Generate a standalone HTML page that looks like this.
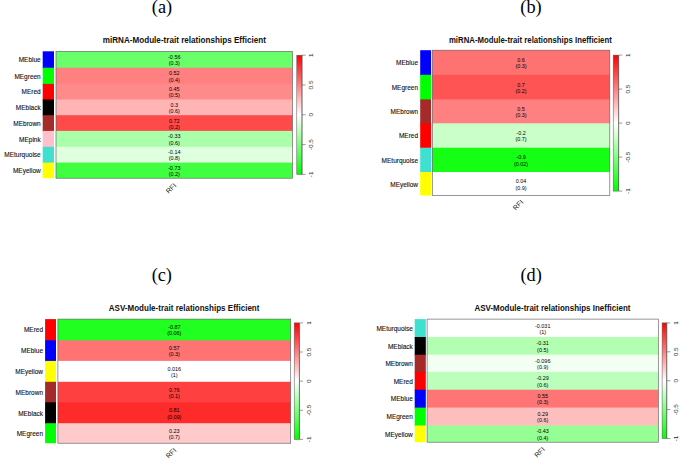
<!DOCTYPE html>
<html><head><meta charset="utf-8"><style>
html,body{margin:0;padding:0;background:#fff;width:685px;height:462px;overflow:hidden}
svg{display:block}
text{font-family:"Liberation Sans",sans-serif}
.tag{font-family:"Liberation Serif",serif;fill:#000}
.ttl{font-weight:bold;fill:#111}
.lbl{fill:#111;stroke:#111;stroke-width:0.12px}
.val{fill:#000}
.tk{fill:#222}
.rfi{fill:#222}
</style></head><body>
<svg width="685" height="462" viewBox="0 0 685 462">
<defs><linearGradient id="g" x1="0" y1="0" x2="0" y2="1">
<stop offset="0" stop-color="#ff0000"/><stop offset="0.5" stop-color="#ffffff"/><stop offset="1" stop-color="#00ff00"/>
</linearGradient></defs>

<text class="tag" transform="translate(162.00,13.10)" font-size="18.30" text-anchor="middle">(a)</text>
<text class="ttl" transform="translate(184.35,42.80) scale(0.9062,1)" font-size="8.96" text-anchor="middle">miRNA-Module-trait relationships Efficient</text>
<rect x="42.70" y="51.30" width="11.30" height="17.20" fill="#0000ff"/>
<rect x="56.00" y="51.30" width="236.50" height="17.20" fill="rgb(106,255,106)"/>
<rect x="42.70" y="67.70" width="11.30" height="17.00" fill="#00ff00"/>
<rect x="56.00" y="67.70" width="236.50" height="17.00" fill="rgb(255,128,128)"/>
<rect x="42.70" y="83.90" width="11.30" height="16.40" fill="#ff0000"/>
<rect x="56.00" y="83.90" width="236.50" height="16.40" fill="rgb(255,138,138)"/>
<rect x="42.70" y="99.50" width="11.30" height="16.50" fill="#000000"/>
<rect x="56.00" y="99.50" width="236.50" height="16.50" fill="rgb(255,181,181)"/>
<rect x="42.70" y="115.20" width="11.30" height="16.50" fill="#a52a2a"/>
<rect x="56.00" y="115.20" width="236.50" height="16.50" fill="rgb(255,74,74)"/>
<rect x="42.70" y="130.90" width="11.30" height="16.70" fill="#ffc0cb"/>
<rect x="56.00" y="130.90" width="236.50" height="16.70" fill="rgb(170,255,170)"/>
<rect x="42.70" y="146.80" width="11.30" height="16.60" fill="#40e0d0"/>
<rect x="56.00" y="146.80" width="236.50" height="16.60" fill="rgb(223,255,223)"/>
<rect x="42.70" y="162.60" width="11.30" height="15.60" fill="#ffff00"/>
<rect x="56.00" y="162.60" width="236.50" height="15.60" fill="rgb(64,255,64)"/>
<text class="lbl" transform="translate(40.70,62.25) scale(0.8696,1)" font-size="7.47" text-anchor="end">MEblue</text>
<text class="val" transform="translate(174.25,59.05) scale(0.9259,1)" font-size="5.89" text-anchor="middle">-0.56</text>
<text class="val" transform="translate(174.25,65.25) scale(0.9259,1)" font-size="5.89" text-anchor="middle">(0.3)</text>
<text class="lbl" transform="translate(40.70,78.55) scale(0.8696,1)" font-size="7.47" text-anchor="end">MEgreen</text>
<text class="val" transform="translate(174.25,75.35) scale(0.9259,1)" font-size="5.89" text-anchor="middle">0.52</text>
<text class="val" transform="translate(174.25,81.55) scale(0.9259,1)" font-size="5.89" text-anchor="middle">(0.4)</text>
<text class="lbl" transform="translate(40.70,94.45) scale(0.8696,1)" font-size="7.47" text-anchor="end">MEred</text>
<text class="val" transform="translate(174.25,91.25) scale(0.9259,1)" font-size="5.89" text-anchor="middle">0.45</text>
<text class="val" transform="translate(174.25,97.45) scale(0.9259,1)" font-size="5.89" text-anchor="middle">(0.5)</text>
<text class="lbl" transform="translate(40.70,110.10) scale(0.8696,1)" font-size="7.47" text-anchor="end">MEblack</text>
<text class="val" transform="translate(174.25,106.90) scale(0.9259,1)" font-size="5.89" text-anchor="middle">0.3</text>
<text class="val" transform="translate(174.25,113.10) scale(0.9259,1)" font-size="5.89" text-anchor="middle">(0.6)</text>
<text class="lbl" transform="translate(40.70,125.80) scale(0.8696,1)" font-size="7.47" text-anchor="end">MEbrown</text>
<text class="val" transform="translate(174.25,122.60) scale(0.9259,1)" font-size="5.89" text-anchor="middle">0.72</text>
<text class="val" transform="translate(174.25,128.80) scale(0.9259,1)" font-size="5.89" text-anchor="middle">(0.2)</text>
<text class="lbl" transform="translate(40.70,141.60) scale(0.8696,1)" font-size="7.47" text-anchor="end">MEpink</text>
<text class="val" transform="translate(174.25,138.40) scale(0.9259,1)" font-size="5.89" text-anchor="middle">-0.33</text>
<text class="val" transform="translate(174.25,144.60) scale(0.9259,1)" font-size="5.89" text-anchor="middle">(0.6)</text>
<text class="lbl" transform="translate(40.70,157.45) scale(0.8696,1)" font-size="7.47" text-anchor="end">MEturquoise</text>
<text class="val" transform="translate(174.25,154.25) scale(0.9259,1)" font-size="5.89" text-anchor="middle">-0.14</text>
<text class="val" transform="translate(174.25,160.45) scale(0.9259,1)" font-size="5.89" text-anchor="middle">(0.8)</text>
<text class="lbl" transform="translate(40.70,173.15) scale(0.8696,1)" font-size="7.47" text-anchor="end">MEyellow</text>
<text class="val" transform="translate(174.25,169.95) scale(0.9259,1)" font-size="5.89" text-anchor="middle">-0.73</text>
<text class="val" transform="translate(174.25,176.15) scale(0.9259,1)" font-size="5.89" text-anchor="middle">(0.2)</text>
<rect x="56.00" y="51.30" width="236.50" height="126.90" fill="none" stroke="#606060" stroke-width="0.65"/>
<rect x="296.80" y="55.20" width="5.20" height="119.20" fill="url(#g)" stroke="#555" stroke-width="0.5"/>
<line x1="302.00" y1="55.20" x2="305.60" y2="55.20" stroke="#555" stroke-width="0.6"/>
<text class="tk" transform="translate(311.00,55.20) rotate(-90) scale(1,0.95)" font-size="6.40" text-anchor="middle" dominant-baseline="central">1</text>
<line x1="302.00" y1="85.00" x2="305.60" y2="85.00" stroke="#555" stroke-width="0.6"/>
<text class="tk" transform="translate(311.00,85.00) rotate(-90) scale(1,0.95)" font-size="6.40" text-anchor="middle" dominant-baseline="central">0.5</text>
<line x1="302.00" y1="114.80" x2="305.60" y2="114.80" stroke="#555" stroke-width="0.6"/>
<text class="tk" transform="translate(311.00,114.80) rotate(-90) scale(1,0.95)" font-size="6.40" text-anchor="middle" dominant-baseline="central">0</text>
<line x1="302.00" y1="144.60" x2="305.60" y2="144.60" stroke="#555" stroke-width="0.6"/>
<text class="tk" transform="translate(311.00,144.60) rotate(-90) scale(1,0.95)" font-size="6.40" text-anchor="middle" dominant-baseline="central">-0.5</text>
<line x1="302.00" y1="174.40" x2="305.60" y2="174.40" stroke="#555" stroke-width="0.6"/>
<text class="tk" transform="translate(311.00,174.40) rotate(-90) scale(1,0.95)" font-size="6.40" text-anchor="middle" dominant-baseline="central">-1</text>
<line x1="302.00" y1="55.20" x2="302.00" y2="174.40" stroke="#555" stroke-width="0.6"/>
<text class="rfi" transform="translate(171.00,188.30) rotate(-45)" font-size="7.00" text-anchor="middle" dominant-baseline="central">RFI</text>
<text class="tag" transform="translate(531.00,13.20)" font-size="18.30" text-anchor="middle">(b)</text>
<text class="ttl" transform="translate(530.35,42.70) scale(0.8714,1)" font-size="8.96" text-anchor="middle">miRNA-Module-trait relationships Inefficient</text>
<rect x="420.20" y="50.20" width="10.90" height="25.40" fill="#0000ff"/>
<rect x="432.30" y="50.20" width="177.50" height="25.40" fill="rgb(255,114,114)"/>
<rect x="420.20" y="74.80" width="10.90" height="25.40" fill="#00ff00"/>
<rect x="432.30" y="74.80" width="177.50" height="25.40" fill="rgb(255,84,84)"/>
<rect x="420.20" y="99.40" width="10.90" height="24.70" fill="#a52a2a"/>
<rect x="432.30" y="99.40" width="177.50" height="24.70" fill="rgb(255,128,128)"/>
<rect x="420.20" y="123.30" width="10.90" height="25.20" fill="#ff0000"/>
<rect x="432.30" y="123.30" width="177.50" height="25.20" fill="rgb(202,255,202)"/>
<rect x="420.20" y="147.70" width="10.90" height="25.10" fill="#40e0d0"/>
<rect x="432.30" y="147.70" width="177.50" height="25.10" fill="rgb(21,255,21)"/>
<rect x="420.20" y="172.00" width="10.90" height="23.50" fill="#ffff00"/>
<rect x="432.30" y="172.00" width="177.50" height="23.50" fill="rgb(255,255,255)"/>
<text class="lbl" transform="translate(418.00,65.25) scale(0.8696,1)" font-size="7.47" text-anchor="end">MEblue</text>
<text class="val" transform="translate(521.05,62.05) scale(0.9259,1)" font-size="5.89" text-anchor="middle">0.6</text>
<text class="val" transform="translate(521.05,68.25) scale(0.9259,1)" font-size="5.89" text-anchor="middle">(0.3)</text>
<text class="lbl" transform="translate(418.00,89.85) scale(0.8696,1)" font-size="7.47" text-anchor="end">MEgreen</text>
<text class="val" transform="translate(521.05,86.65) scale(0.9259,1)" font-size="5.89" text-anchor="middle">0.7</text>
<text class="val" transform="translate(521.05,92.85) scale(0.9259,1)" font-size="5.89" text-anchor="middle">(0.2)</text>
<text class="lbl" transform="translate(418.00,114.10) scale(0.8696,1)" font-size="7.47" text-anchor="end">MEbrown</text>
<text class="val" transform="translate(521.05,110.90) scale(0.9259,1)" font-size="5.89" text-anchor="middle">0.5</text>
<text class="val" transform="translate(521.05,117.10) scale(0.9259,1)" font-size="5.89" text-anchor="middle">(0.3)</text>
<text class="lbl" transform="translate(418.00,138.25) scale(0.8696,1)" font-size="7.47" text-anchor="end">MEred</text>
<text class="val" transform="translate(521.05,135.05) scale(0.9259,1)" font-size="5.89" text-anchor="middle">-0.2</text>
<text class="val" transform="translate(521.05,141.25) scale(0.9259,1)" font-size="5.89" text-anchor="middle">(0.7)</text>
<text class="lbl" transform="translate(418.00,162.60) scale(0.8696,1)" font-size="7.47" text-anchor="end">MEturquoise</text>
<text class="val" transform="translate(521.05,159.40) scale(0.9259,1)" font-size="5.89" text-anchor="middle">-0.9</text>
<text class="val" transform="translate(521.05,165.60) scale(0.9259,1)" font-size="5.89" text-anchor="middle">(0.02)</text>
<text class="lbl" transform="translate(418.00,186.50) scale(0.8696,1)" font-size="7.47" text-anchor="end">MEyellow</text>
<text class="val" transform="translate(521.05,183.30) scale(0.9259,1)" font-size="5.89" text-anchor="middle">0.04</text>
<text class="val" transform="translate(521.05,189.50) scale(0.9259,1)" font-size="5.89" text-anchor="middle">(0.9)</text>
<rect x="432.30" y="50.20" width="177.50" height="145.30" fill="none" stroke="#606060" stroke-width="0.65"/>
<rect x="613.20" y="55.10" width="5.50" height="136.00" fill="url(#g)" stroke="#555" stroke-width="0.5"/>
<line x1="618.70" y1="55.10" x2="622.30" y2="55.10" stroke="#555" stroke-width="0.6"/>
<text class="tk" transform="translate(627.50,55.10) rotate(-90) scale(1,0.95)" font-size="6.40" text-anchor="middle" dominant-baseline="central">1</text>
<line x1="618.70" y1="89.10" x2="622.30" y2="89.10" stroke="#555" stroke-width="0.6"/>
<text class="tk" transform="translate(627.50,89.10) rotate(-90) scale(1,0.95)" font-size="6.40" text-anchor="middle" dominant-baseline="central">0.5</text>
<line x1="618.70" y1="123.10" x2="622.30" y2="123.10" stroke="#555" stroke-width="0.6"/>
<text class="tk" transform="translate(627.50,123.10) rotate(-90) scale(1,0.95)" font-size="6.40" text-anchor="middle" dominant-baseline="central">0</text>
<line x1="618.70" y1="157.10" x2="622.30" y2="157.10" stroke="#555" stroke-width="0.6"/>
<text class="tk" transform="translate(627.50,157.10) rotate(-90) scale(1,0.95)" font-size="6.40" text-anchor="middle" dominant-baseline="central">-0.5</text>
<line x1="618.70" y1="191.10" x2="622.30" y2="191.10" stroke="#555" stroke-width="0.6"/>
<text class="tk" transform="translate(627.50,191.10) rotate(-90) scale(1,0.95)" font-size="6.40" text-anchor="middle" dominant-baseline="central">-1</text>
<line x1="618.70" y1="55.10" x2="618.70" y2="191.10" stroke="#555" stroke-width="0.6"/>
<text class="rfi" transform="translate(518.00,204.90) rotate(-45)" font-size="7.00" text-anchor="middle" dominant-baseline="central">RFI</text>
<text class="tag" transform="translate(161.80,281.00)" font-size="18.30" text-anchor="middle">(c)</text>
<text class="ttl" transform="translate(184.10,310.70) scale(0.8963,1)" font-size="8.96" text-anchor="middle">ASV-Module-trait relationships Efficient</text>
<rect x="45.10" y="319.10" width="10.90" height="22.00" fill="#ff0000"/>
<rect x="57.90" y="319.10" width="232.80" height="22.00" fill="rgb(32,255,32)"/>
<rect x="45.10" y="340.30" width="10.90" height="21.40" fill="#0000ff"/>
<rect x="57.90" y="340.30" width="232.80" height="21.40" fill="rgb(255,115,115)"/>
<rect x="45.10" y="360.90" width="10.90" height="21.70" fill="#ffff00"/>
<rect x="57.90" y="360.90" width="232.80" height="21.70" fill="rgb(255,255,255)"/>
<rect x="45.10" y="381.80" width="10.90" height="21.30" fill="#a52a2a"/>
<rect x="57.90" y="381.80" width="232.80" height="21.30" fill="rgb(255,64,64)"/>
<rect x="45.10" y="402.30" width="10.90" height="21.70" fill="#000000"/>
<rect x="57.90" y="402.30" width="232.80" height="21.70" fill="rgb(255,42,42)"/>
<rect x="45.10" y="423.20" width="10.90" height="20.00" fill="#00ff00"/>
<rect x="57.90" y="423.20" width="232.80" height="20.00" fill="rgb(255,202,202)"/>
<text class="lbl" transform="translate(43.00,332.45) scale(0.8696,1)" font-size="7.47" text-anchor="end">MEred</text>
<text class="val" transform="translate(174.30,329.25) scale(0.9259,1)" font-size="5.89" text-anchor="middle">-0.87</text>
<text class="val" transform="translate(174.30,335.45) scale(0.9259,1)" font-size="5.89" text-anchor="middle">(0.06)</text>
<text class="lbl" transform="translate(43.00,353.35) scale(0.8696,1)" font-size="7.47" text-anchor="end">MEblue</text>
<text class="val" transform="translate(174.30,350.15) scale(0.9259,1)" font-size="5.89" text-anchor="middle">0.57</text>
<text class="val" transform="translate(174.30,356.35) scale(0.9259,1)" font-size="5.89" text-anchor="middle">(0.3)</text>
<text class="lbl" transform="translate(43.00,374.10) scale(0.8696,1)" font-size="7.47" text-anchor="end">MEyellow</text>
<text class="val" transform="translate(174.30,370.90) scale(0.9259,1)" font-size="5.89" text-anchor="middle">0.016</text>
<text class="val" transform="translate(174.30,377.10) scale(0.9259,1)" font-size="5.89" text-anchor="middle">(1)</text>
<text class="lbl" transform="translate(43.00,394.80) scale(0.8696,1)" font-size="7.47" text-anchor="end">MEbrown</text>
<text class="val" transform="translate(174.30,391.60) scale(0.9259,1)" font-size="5.89" text-anchor="middle">0.76</text>
<text class="val" transform="translate(174.30,397.80) scale(0.9259,1)" font-size="5.89" text-anchor="middle">(0.1)</text>
<text class="lbl" transform="translate(43.00,415.50) scale(0.8696,1)" font-size="7.47" text-anchor="end">MEblack</text>
<text class="val" transform="translate(174.30,412.30) scale(0.9259,1)" font-size="5.89" text-anchor="middle">0.81</text>
<text class="val" transform="translate(174.30,418.50) scale(0.9259,1)" font-size="5.89" text-anchor="middle">(0.09)</text>
<text class="lbl" transform="translate(43.00,435.95) scale(0.8696,1)" font-size="7.47" text-anchor="end">MEgreen</text>
<text class="val" transform="translate(174.30,432.75) scale(0.9259,1)" font-size="5.89" text-anchor="middle">0.23</text>
<text class="val" transform="translate(174.30,438.95) scale(0.9259,1)" font-size="5.89" text-anchor="middle">(0.7)</text>
<rect x="57.90" y="319.10" width="232.80" height="124.10" fill="none" stroke="#606060" stroke-width="0.65"/>
<rect x="294.20" y="322.90" width="5.20" height="116.50" fill="url(#g)" stroke="#555" stroke-width="0.5"/>
<line x1="299.40" y1="322.90" x2="303.00" y2="322.90" stroke="#555" stroke-width="0.6"/>
<text class="tk" transform="translate(308.20,322.90) rotate(-90) scale(1,0.95)" font-size="6.40" text-anchor="middle" dominant-baseline="central">1</text>
<line x1="299.40" y1="352.02" x2="303.00" y2="352.02" stroke="#555" stroke-width="0.6"/>
<text class="tk" transform="translate(308.20,352.02) rotate(-90) scale(1,0.95)" font-size="6.40" text-anchor="middle" dominant-baseline="central">0.5</text>
<line x1="299.40" y1="381.15" x2="303.00" y2="381.15" stroke="#555" stroke-width="0.6"/>
<text class="tk" transform="translate(308.20,381.15) rotate(-90) scale(1,0.95)" font-size="6.40" text-anchor="middle" dominant-baseline="central">0</text>
<line x1="299.40" y1="410.27" x2="303.00" y2="410.27" stroke="#555" stroke-width="0.6"/>
<text class="tk" transform="translate(308.20,410.27) rotate(-90) scale(1,0.95)" font-size="6.40" text-anchor="middle" dominant-baseline="central">-0.5</text>
<line x1="299.40" y1="439.40" x2="303.00" y2="439.40" stroke="#555" stroke-width="0.6"/>
<text class="tk" transform="translate(308.20,439.40) rotate(-90) scale(1,0.95)" font-size="6.40" text-anchor="middle" dominant-baseline="central">-1</text>
<line x1="299.40" y1="322.90" x2="299.40" y2="439.40" stroke="#555" stroke-width="0.6"/>
<text class="rfi" transform="translate(171.00,453.10) rotate(-45)" font-size="7.00" text-anchor="middle" dominant-baseline="central">RFI</text>
<text class="tag" transform="translate(531.10,281.00)" font-size="18.30" text-anchor="middle">(d)</text>
<text class="ttl" transform="translate(552.45,310.70) scale(0.8920,1)" font-size="8.96" text-anchor="middle">ASV-Module-trait relationships Inefficient</text>
<rect x="414.70" y="319.10" width="11.10" height="18.70" fill="#40e0d0"/>
<rect x="427.10" y="319.10" width="231.20" height="18.70" fill="rgb(255,255,255)"/>
<rect x="414.70" y="337.00" width="11.10" height="18.50" fill="#000000"/>
<rect x="427.10" y="337.00" width="231.20" height="18.50" fill="rgb(178,255,178)"/>
<rect x="414.70" y="354.70" width="11.10" height="18.00" fill="#a52a2a"/>
<rect x="427.10" y="354.70" width="231.20" height="18.00" fill="rgb(242,255,242)"/>
<rect x="414.70" y="371.90" width="11.10" height="18.60" fill="#ff0000"/>
<rect x="427.10" y="371.90" width="231.20" height="18.60" fill="rgb(188,255,188)"/>
<rect x="414.70" y="389.70" width="11.10" height="18.70" fill="#0000ff"/>
<rect x="427.10" y="389.70" width="231.20" height="18.70" fill="rgb(255,117,117)"/>
<rect x="414.70" y="407.60" width="11.10" height="18.70" fill="#00ff00"/>
<rect x="427.10" y="407.60" width="231.20" height="18.70" fill="rgb(255,190,190)"/>
<rect x="414.70" y="425.50" width="11.10" height="16.70" fill="#ffff00"/>
<rect x="427.10" y="425.50" width="231.20" height="16.70" fill="rgb(149,255,149)"/>
<text class="lbl" transform="translate(412.80,330.80) scale(0.8696,1)" font-size="7.47" text-anchor="end">MEturquoise</text>
<text class="val" transform="translate(542.70,327.60) scale(0.9259,1)" font-size="5.89" text-anchor="middle">-0.031</text>
<text class="val" transform="translate(542.70,333.80) scale(0.9259,1)" font-size="5.89" text-anchor="middle">(1)</text>
<text class="lbl" transform="translate(412.80,348.60) scale(0.8696,1)" font-size="7.47" text-anchor="end">MEblack</text>
<text class="val" transform="translate(542.70,345.40) scale(0.9259,1)" font-size="5.89" text-anchor="middle">-0.31</text>
<text class="val" transform="translate(542.70,351.60) scale(0.9259,1)" font-size="5.89" text-anchor="middle">(0.5)</text>
<text class="lbl" transform="translate(412.80,366.05) scale(0.8696,1)" font-size="7.47" text-anchor="end">MEbrown</text>
<text class="val" transform="translate(542.70,362.85) scale(0.9259,1)" font-size="5.89" text-anchor="middle">-0.096</text>
<text class="val" transform="translate(542.70,369.05) scale(0.9259,1)" font-size="5.89" text-anchor="middle">(0.9)</text>
<text class="lbl" transform="translate(412.80,383.55) scale(0.8696,1)" font-size="7.47" text-anchor="end">MEred</text>
<text class="val" transform="translate(542.70,380.35) scale(0.9259,1)" font-size="5.89" text-anchor="middle">-0.29</text>
<text class="val" transform="translate(542.70,386.55) scale(0.9259,1)" font-size="5.89" text-anchor="middle">(0.6)</text>
<text class="lbl" transform="translate(412.80,401.40) scale(0.8696,1)" font-size="7.47" text-anchor="end">MEblue</text>
<text class="val" transform="translate(542.70,398.20) scale(0.9259,1)" font-size="5.89" text-anchor="middle">0.55</text>
<text class="val" transform="translate(542.70,404.40) scale(0.9259,1)" font-size="5.89" text-anchor="middle">(0.3)</text>
<text class="lbl" transform="translate(412.80,419.30) scale(0.8696,1)" font-size="7.47" text-anchor="end">MEgreen</text>
<text class="val" transform="translate(542.70,416.10) scale(0.9259,1)" font-size="5.89" text-anchor="middle">0.29</text>
<text class="val" transform="translate(542.70,422.30) scale(0.9259,1)" font-size="5.89" text-anchor="middle">(0.6)</text>
<text class="lbl" transform="translate(412.80,436.60) scale(0.8696,1)" font-size="7.47" text-anchor="end">MEyellow</text>
<text class="val" transform="translate(542.70,433.40) scale(0.9259,1)" font-size="5.89" text-anchor="middle">-0.43</text>
<text class="val" transform="translate(542.70,439.60) scale(0.9259,1)" font-size="5.89" text-anchor="middle">(0.4)</text>
<rect x="427.10" y="319.10" width="231.20" height="123.10" fill="none" stroke="#606060" stroke-width="0.65"/>
<rect x="662.10" y="322.90" width="4.70" height="115.60" fill="url(#g)" stroke="#555" stroke-width="0.5"/>
<line x1="666.80" y1="322.90" x2="670.40" y2="322.90" stroke="#555" stroke-width="0.6"/>
<text class="tk" transform="translate(676.00,322.90) rotate(-90) scale(1,0.95)" font-size="6.40" text-anchor="middle" dominant-baseline="central">1</text>
<line x1="666.80" y1="351.80" x2="670.40" y2="351.80" stroke="#555" stroke-width="0.6"/>
<text class="tk" transform="translate(676.00,351.80) rotate(-90) scale(1,0.95)" font-size="6.40" text-anchor="middle" dominant-baseline="central">0.5</text>
<line x1="666.80" y1="380.70" x2="670.40" y2="380.70" stroke="#555" stroke-width="0.6"/>
<text class="tk" transform="translate(676.00,380.70) rotate(-90) scale(1,0.95)" font-size="6.40" text-anchor="middle" dominant-baseline="central">0</text>
<line x1="666.80" y1="409.60" x2="670.40" y2="409.60" stroke="#555" stroke-width="0.6"/>
<text class="tk" transform="translate(676.00,409.60) rotate(-90) scale(1,0.95)" font-size="6.40" text-anchor="middle" dominant-baseline="central">-0.5</text>
<line x1="666.80" y1="438.50" x2="670.40" y2="438.50" stroke="#555" stroke-width="0.6"/>
<text class="tk" transform="translate(676.00,438.50) rotate(-90) scale(1,0.95)" font-size="6.40" text-anchor="middle" dominant-baseline="central">-1</text>
<line x1="666.80" y1="322.90" x2="666.80" y2="438.50" stroke="#555" stroke-width="0.6"/>
<text class="rfi" transform="translate(539.50,452.20) rotate(-45)" font-size="7.00" text-anchor="middle" dominant-baseline="central">RFI</text>
</svg></body></html>
